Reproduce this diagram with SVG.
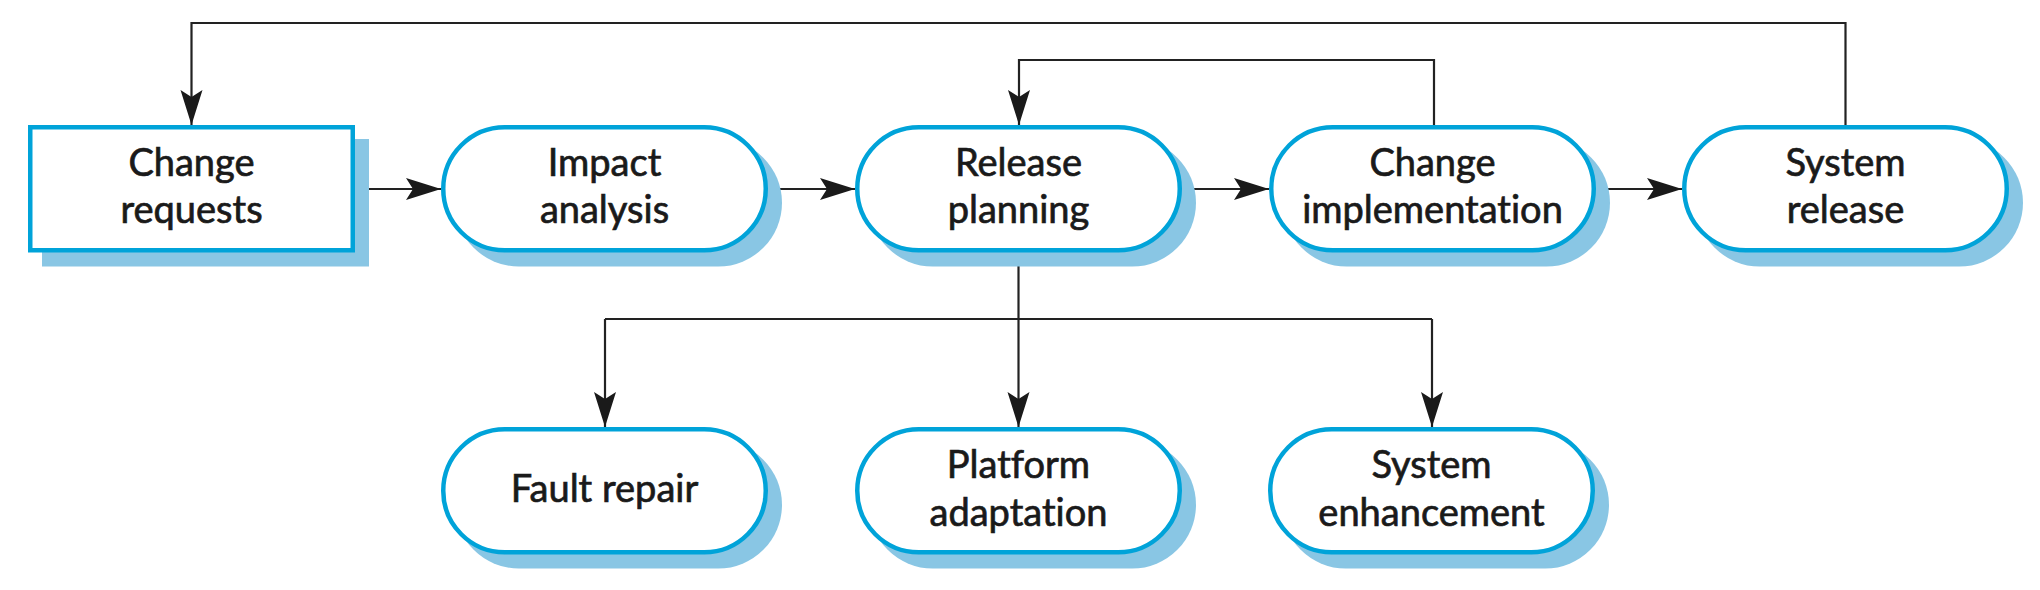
<svg xmlns="http://www.w3.org/2000/svg" width="2040" height="590" viewBox="0 0 2040 590">
  <defs>
    <marker id="arr" viewBox="-36 -12 37 24" refX="0" refY="0" markerWidth="37" markerHeight="24" markerUnits="userSpaceOnUse" orient="auto">
      <path d="M0,0 L-35,-11 L-28,0 L-35,11 Z" fill="#1a1a1a"/>
    </marker>
  </defs>
  <style>
    .shadow { fill: #89c6e4; stroke: none; }
    .box { fill: #ffffff; stroke: #00a3d9; stroke-width: 4.5; }
    .lbl { font-family: Lato, "Open Sans", "Liberation Sans", sans-serif; font-size: 38px; fill: #1a1a1a; stroke: #1a1a1a; stroke-width: 0.7; text-anchor: middle; font-variant-ligatures: none; }
    .conn { fill: none; stroke: #222222; stroke-width: 2.2; }
  </style>
  <rect width="2040" height="590" fill="#ffffff"/>

  <g id="connectors">
    <path class="conn" d="M1845.5,125 V23 H191.5 V125" marker-end="url(#arr)"/>
    <path class="conn" d="M1434,125 V60 H1019 V125" marker-end="url(#arr)"/>
    <path class="conn" d="M356,189 H441" stroke-width="2.6" marker-end="url(#arr)"/>
    <path class="conn" d="M769,189 H855" stroke-width="2.6" marker-end="url(#arr)"/>
    <path class="conn" d="M1182,189 H1269" stroke-width="2.6" marker-end="url(#arr)"/>
    <path class="conn" d="M1595,189 H1682" stroke-width="2.6" marker-end="url(#arr)"/>
    <path class="conn" d="M1018.5,252 V319"/>
    <path class="conn" d="M605,319 H1432"/>
    <path class="conn" d="M605,319 V427" marker-end="url(#arr)"/>
    <path class="conn" d="M1018.5,319 V427" marker-end="url(#arr)"/>
    <path class="conn" d="M1432,319 V427" marker-end="url(#arr)"/>
  </g>

  <g id="change-requests">
    <rect class="shadow" x="42" y="139" width="327" height="127.5"/>
    <rect class="box" x="30.25" y="127.25" width="322.5" height="123"/>
    <text class="lbl" x="191.5" y="176">Change</text>
    <text class="lbl" x="191.5" y="223">requests</text>
  </g>

  <g id="impact-analysis">
    <rect class="shadow" x="455" y="139" width="327" height="127.5" rx="63.75"/>
    <rect class="box" x="443.25" y="127.25" width="322.5" height="123" rx="61.5"/>
    <text class="lbl" x="604.5" y="176">Impact</text>
    <text class="lbl" x="604.5" y="223">analysis</text>
  </g>

  <g id="release-planning">
    <rect class="shadow" x="869" y="139" width="327" height="127.5" rx="63.75"/>
    <rect class="box" x="857.25" y="127.25" width="322.5" height="123" rx="61.5"/>
    <text class="lbl" x="1018.5" y="176">Release</text>
    <text class="lbl" x="1018.5" y="223">planning</text>
  </g>

  <g id="change-implementation">
    <rect class="shadow" x="1283" y="139" width="327" height="127.5" rx="63.75"/>
    <rect class="box" x="1271.25" y="127.25" width="322.5" height="123" rx="61.5"/>
    <text class="lbl" x="1432.5" y="176">Change</text>
    <text class="lbl" x="1432.5" y="223">implementation</text>
  </g>

  <g id="system-release">
    <rect class="shadow" x="1696" y="139" width="327" height="127.5" rx="63.75"/>
    <rect class="box" x="1684.25" y="127.25" width="322.5" height="123" rx="61.5"/>
    <text class="lbl" x="1845.5" y="176">System</text>
    <text class="lbl" x="1845.5" y="223">release</text>
  </g>

  <g id="fault-repair">
    <rect class="shadow" x="455" y="441" width="327" height="127.5" rx="63.75"/>
    <rect class="box" x="443.25" y="429.25" width="322.5" height="123" rx="61.5"/>
    <text class="lbl" x="604.5" y="502">Fault repair</text>
  </g>

  <g id="platform-adaptation">
    <rect class="shadow" x="869" y="441" width="327" height="127.5" rx="63.75"/>
    <rect class="box" x="857.25" y="429.25" width="322.5" height="123" rx="61.5"/>
    <text class="lbl" x="1018.5" y="478">Platform</text>
    <text class="lbl" x="1018.5" y="526">adaptation</text>
  </g>

  <g id="system-enhancement">
    <rect class="shadow" x="1282" y="441" width="327" height="127.5" rx="63.75"/>
    <rect class="box" x="1270.25" y="429.25" width="322.5" height="123" rx="61.5"/>
    <text class="lbl" x="1431.5" y="478">System</text>
    <text class="lbl" x="1431.5" y="526">enhancement</text>
  </g>
</svg>
